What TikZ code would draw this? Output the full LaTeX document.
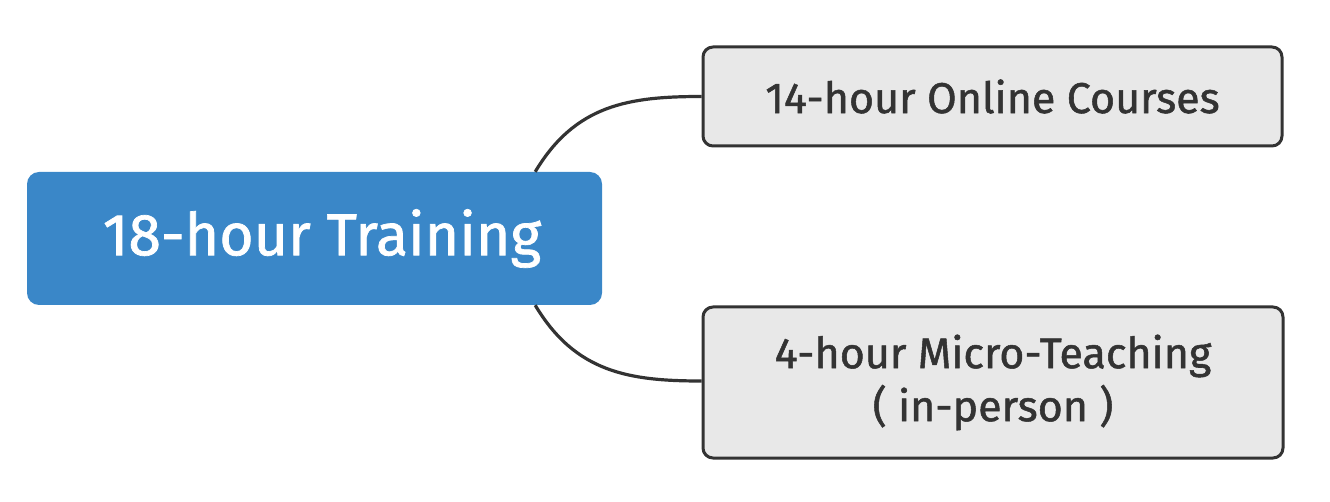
\documentclass[tikz,border=0pt]{standalone}
\usepackage{fontspec}
\setmainfont{Fira Sans}[FakeBold=1.2]
\newfontfamily\medfont{Fira Sans}[FakeBold=1.2]
\definecolor{mainblue}{HTML}{3A87C8}
\definecolor{childfill}{HTML}{E8E8E8}
\definecolor{darkline}{HTML}{333333}
\begin{document}
\begin{tikzpicture}[x=1pt,y=-1pt,
  mainbox/.style={fill=mainblue, draw=none, rounded corners=12pt, minimum width=575pt, minimum height=133pt, inner sep=0pt, text=white, font=\medfont\fontsize{59}{66}\selectfont},
  childbox/.style={fill=childfill, draw=darkline, line width=3pt, rounded corners=10pt, inner sep=0pt, text=darkline, align=center, font=\medfont\fontsize{43}{53}\selectfont},
  conn/.style={draw=darkline, line width=3.2pt}]
\useasboundingbox (0,0) rectangle (1330,502);
\node[mainbox] (c) at (314.5,238.5) {\hspace*{15pt}18-hour Training};
\node[childbox, minimum width=579pt, minimum height=99pt] (t) at (992.5,96.5) {14-hour Online Courses};
\node[childbox, minimum width=580pt, minimum height=151pt] (b) at (993,382.5) {4-hour Micro-Teaching\\( in-person )};
\draw[conn] ([xshift=-67pt]c.north east) .. controls +(40,-67) and +(-73,0) .. (t.west);
\draw[conn] ([xshift=-67pt]c.south east) .. controls +(40,67) and +(-73,0) .. ([yshift=1.5pt]b.west);
\end{tikzpicture}
\end{document}
